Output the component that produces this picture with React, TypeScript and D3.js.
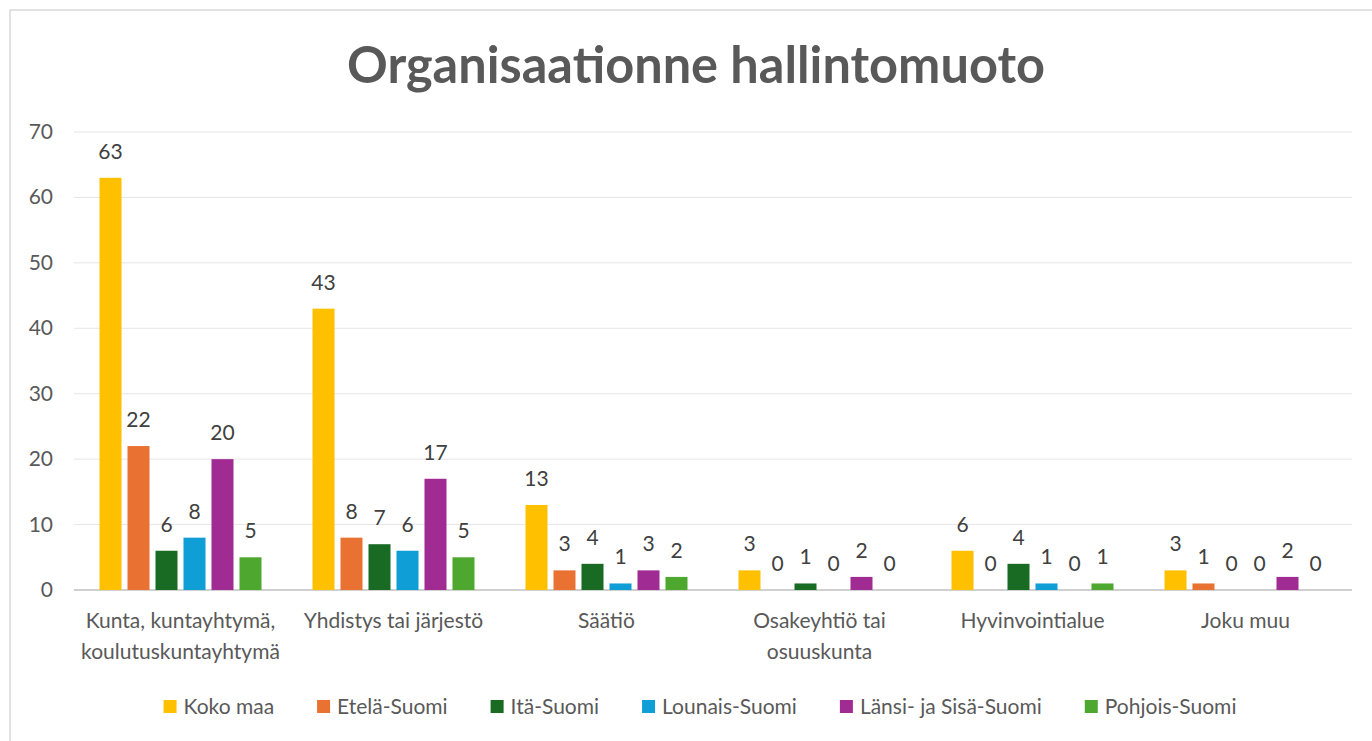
import React from "react";
import * as d3 from "d3";

const categories = [
  ["Kunta, kuntayhtymä,", "koulutuskuntayhtymä"],
  ["Yhdistys tai järjestö"],
  ["Säätiö"],
  ["Osakeyhtiö tai", "osuuskunta"],
  ["Hyvinvointialue"],
  ["Joku muu"],
];
const seriesNames = ["Koko maa", "Etelä-Suomi", "Itä-Suomi", "Lounais-Suomi", "Länsi- ja Sisä-Suomi", "Pohjois-Suomi"];
const kokoMaa = [63, 43, 13, 3, 6, 3];
const etelaSuomi = [22, 8, 3, 0, 0, 1];
const itaSuomi = [6, 7, 4, 1, 4, 0];
const lounaisSuomi = [8, 6, 1, 0, 1, 0];
const lansiSisaSuomi = [20, 17, 3, 2, 0, 2];
const pohjoisSuomi = [5, 5, 2, 0, 1, 0];
const yTicks = [0, 10, 20, 30, 40, 50, 60, 70];
const colors = ["#FFC000", "#E97132", "#196B24", "#0F9ED5", "#A02B93", "#4EA72E"];
const title = "Organisaationne hallintomuoto";

const seriesValues = [kokoMaa, etelaSuomi, itaSuomi, lounaisSuomi, lansiSisaSuomi, pohjoisSuomi];

const FONT = "Lato, 'Open Sans', sans-serif";

function measure(text: string, size: number) {
  const c = document.createElement("canvas").getContext("2d")!;
  c.font = `${size}px Lato`;
  return c.measureText(text).width;
}

export default function App() {
  const W = 1372, H = 741;
  const y = d3.scaleLinear().domain([0, 70]).range([590, 132]);
  const x = d3.scaleBand<number>().domain(d3.range(categories.length)).range([74, 1352]).padding(0);
  const groupW = 162;
  const inner = d3.scaleBand<number>().domain(d3.range(seriesNames.length)).range([0, groupW]).paddingInner(0.214).paddingOuter(0);
  const barW = inner.bandwidth();

  const legendSize = 21;
  const sq = 13, sqGap = 7, itemGap = 43;
  const widths = seriesNames.map((s) => measure(s, legendSize));
  const total = d3.sum(widths) + seriesNames.length * (sq + sqGap) + (seriesNames.length - 1) * itemGap;
  let lx = 700 - total / 2;
  const legendX = widths.map((w) => {
    const p = lx;
    lx += sq + sqGap + w + itemGap;
    return p;
  });

  return (
    <svg width={W} height={H} style={{ position: "absolute", left: 0, top: 0, fontFamily: FONT }}>
      <rect x={0} y={0} width={W} height={H} fill="#fff" />
      <rect x={10} y={10} width={W} height={H} fill="#fff" stroke="#D9D9D9" strokeWidth={1.5} />
      <text x={696} y={83} textAnchor="middle" fontSize={51} fontWeight={700} fill="#595959"
        textLength={698} lengthAdjust="spacingAndGlyphs">{title}</text>
      {yTicks.map((t) => (
        <g key={t}>
          <line x1={74} x2={1352} y1={y(t)} y2={y(t)} stroke={t === 0 ? "#D0D0D0" : "#E6E6E6"} strokeWidth={t === 0 ? 2 : 1} />
          <text x={53} y={y(t) + 7} textAnchor="end" fontSize={21} fill="#595959">{t}</text>
        </g>
      ))}
      {categories.map((cat, ci) => {
        const gx = x(ci)! + x.bandwidth() / 2 - groupW / 2;
        return (
          <g key={ci}>
            {seriesValues.map((vals, si) => {
              const v = vals[ci];
              const bx = gx + inner(si)!;
              return (
                <g key={si}>
                  {v > 0 && <rect x={bx} y={y(v)} width={barW} height={y(0) - y(v)} fill={colors[si]} />}
                  <text x={bx + barW / 2} y={y(v) - 19} textAnchor="middle" fontSize={21} fill="#404040">{v}</text>
                </g>
              );
            })}
            {cat.map((line, li) => (
              <text key={li} x={x(ci)! + x.bandwidth() / 2} y={628 + li * 31} textAnchor="middle" fontSize={21} fill="#595959">{line}</text>
            ))}
          </g>
        );
      })}
      {seriesNames.map((s, i) => (
        <g key={s}>
          <rect x={legendX[i]} y={700} width={sq} height={sq} fill={colors[i]} />
          <text x={legendX[i] + sq + sqGap} y={714} fontSize={legendSize} fill="#595959">{s}</text>
        </g>
      ))}
    </svg>
  );
}
